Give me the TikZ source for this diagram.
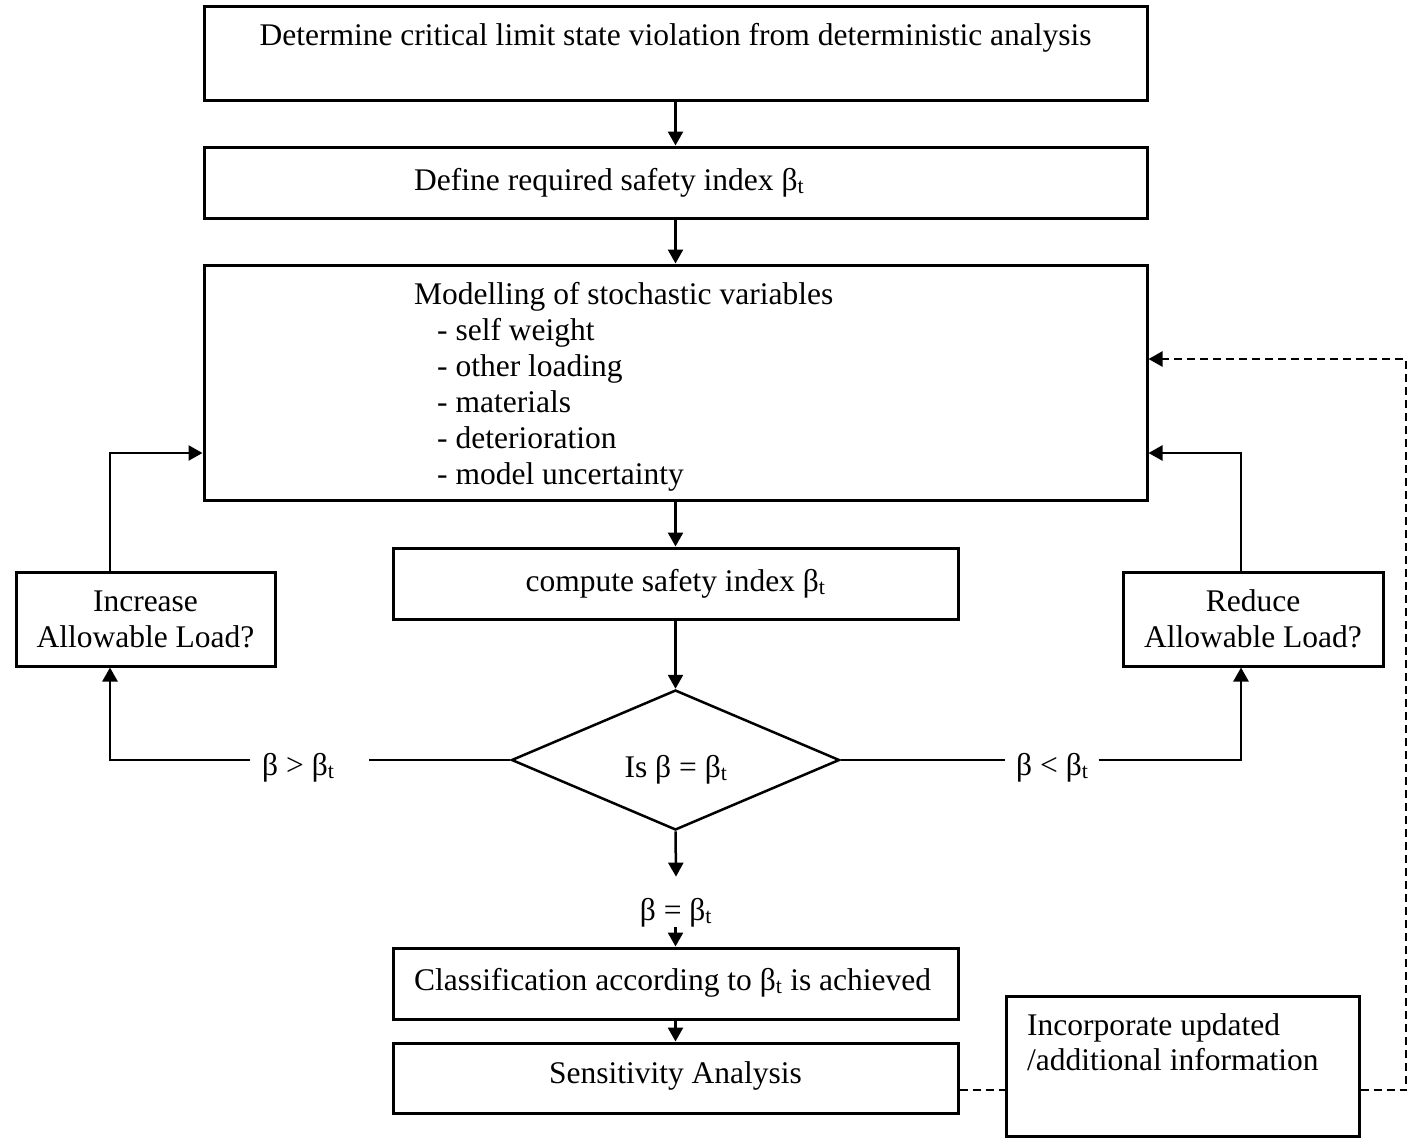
\documentclass[tikz,border=0pt]{standalone}
\usepackage{fontspec}
\setmainfont{Liberation Serif}
\usetikzlibrary{arrows.meta,shapes.geometric}
\newcommand{\btx}{β\textsubscript{t}}
\begin{document}
\begin{tikzpicture}[x=1pt,y=-1pt,
  box/.style={draw, line width=3pt, rectangle, inner sep=0pt},
  txt/.style={inner sep=0pt, font=\fontsize{31.5}{36}\selectfont},
  conn/.style={line width=2.5pt},
  arr/.style={conn, -{Triangle[length=14pt,width=15pt]}},
  dsh/.style={line width=2.5pt, dash pattern=on 8pt off 5pt},
  ]
\useasboundingbox (0,0) rectangle (1412,1138);
% boxes
\node[box, minimum width=943pt, minimum height=94pt] (b1) at (675.5,53) {};
\node[box, minimum width=943pt, minimum height=71pt] (b2) at (675.5,182.5) {};
\node[box, minimum width=943pt, minimum height=235pt] (b3) at (675.5,382.5) {};
\node[box, minimum width=565pt, minimum height=71pt] (b4) at (675.5,583.5) {};
\node[draw, diamond, line width=2.5pt, inner sep=0pt, minimum width=328pt, minimum height=140pt] (dia) at (675.5,760) {};
\node[box, minimum width=565pt, minimum height=71pt] (b5) at (675.5,983.5) {};
\node[box, minimum width=565pt, minimum height=70pt] (b6) at (675.5,1078) {};
\node[box, minimum width=353pt, minimum height=140pt] (b7) at (1182.5,1066) {};
\node[box, minimum width=259pt, minimum height=94pt] (inc) at (145.5,619) {};
\node[box, minimum width=260pt, minimum height=94pt] (red) at (1253,619) {};
% texts
\node[txt, anchor=base] (t1) at (675.5,45) {Determine critical limit state violation from deterministic analysis};
\node[txt, anchor=base west] (t2) at (414,190) {Define required safety index \btx};
\node[txt, anchor=base west, align=left] (t3) at (414,484) {Modelling of stochastic variables\\
\hspace*{23pt}- self weight\\
\hspace*{23pt}- other loading\\
\hspace*{23pt}- materials\\
\hspace*{23pt}- deterioration\\
\hspace*{23pt}- model uncertainty};
\node[txt, anchor=base] (t4) at (675.5,591) {compute safety index \btx};
\node[txt, anchor=base] (tdia) at (676,777) {Is β = \btx};
\node[txt, anchor=base] (eqlab) at (676,920) {β = \btx};
\node[txt, anchor=base west] (t5) at (414,990) {Classification according to \btx{} is achieved};
\node[txt, anchor=base] (t6) at (675.5,1083) {Sensitivity Analysis};
\node[txt, anchor=base west, align=left, font=\fontsize{31.5}{35}\selectfont] (t7) at (1027,1070) {Incorporate updated\\/additional information};
\node[txt, anchor=base, align=center] (tinc) at (145.5,647) {Increase\\Allowable Load?};
\node[txt, anchor=base, align=center] (tred) at (1253,647) {Reduce\\Allowable Load?};
\node[txt, anchor=base west] (gtlab) at (262,775) {β > \btx};
\node[txt, anchor=base west] (ltlab) at (1016,775) {β < \btx};
% main chain
\draw[arr] (b1) -- (b2);
\draw[arr] (b2) -- (b3);
\draw[arr] (b3) -- (b4);
\draw[arr] (b4) -- (dia);
\draw[arr] (dia.south) -- ([yshift=21pt]eqlab.north);
\draw[arr] (b5.north |- eqlab.south) -- (b5.north);
\draw[arr] (b5) -- (b6);
% left branch
\draw[conn] (dia.west) -- ([xshift=34pt]gtlab.east |- dia.west);
\draw[arr] ([xshift=-12pt]gtlab.west |- dia.west) -| ([xshift=-35.5pt]inc.south);
\draw[arr] ([xshift=-35.5pt]inc.north) |- ([yshift=-70.5pt]b3.west);
% right branch
\draw[conn] (dia.east) -- ([xshift=-11pt]ltlab.west |- dia.east);
\draw[arr] ([xshift=10pt]ltlab.east |- dia.east) -| ([xshift=-12pt]red.south);
\draw[arr] ([xshift=-12pt]red.north) |- ([yshift=-70.5pt]b3.east);
% dashed feedback
\coordinate (d1) at ([yshift=-12pt]b6.east);
\coordinate (d2) at ([yshift=-24pt]b7.east);
\coordinate (dc) at (1406,359);
\draw[dsh] (d1) -- (d1 -| b7.west);
\draw[dsh, -{Triangle[length=14pt,width=15pt]}] (d2) -| (dc) -- (dc -| b3.east);
\end{tikzpicture}
\end{document}
